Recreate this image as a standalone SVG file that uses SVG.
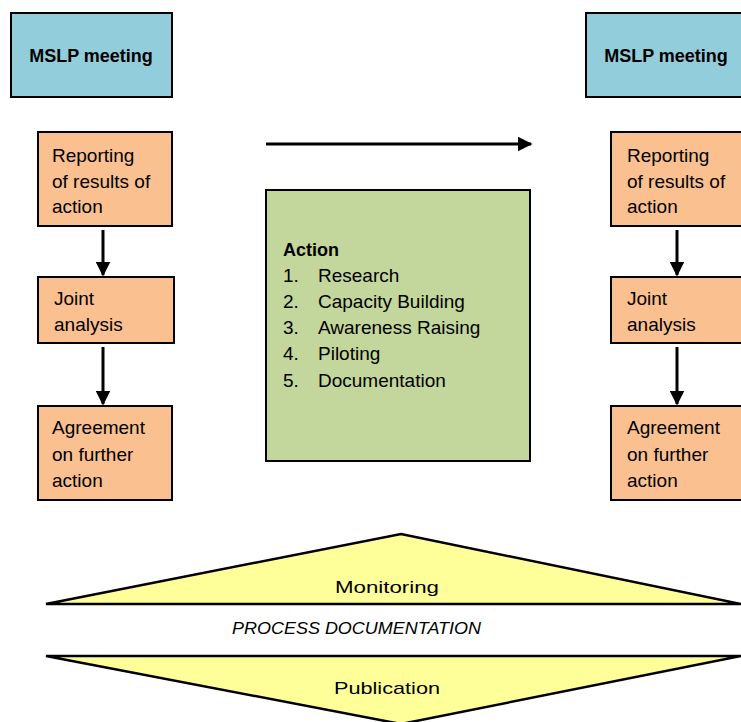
<svg xmlns="http://www.w3.org/2000/svg" width="741" height="722" viewBox="0 0 741 722">
<defs>
<style>
.blue{fill:#92cddc;stroke:#000;stroke-width:2}
.orange{fill:#fac090;stroke:#000;stroke-width:2}
.green{fill:#c3d69b;stroke:#000;stroke-width:2}
.tri{fill:#ffff99;stroke:#000;stroke-width:2.5}
.t{font-family:"Liberation Sans",Arial,sans-serif;font-size:19px;fill:#000}
.b{font-weight:bold;font-size:18px}
.s{font-family:"Liberation Sans",Arial,sans-serif;font-size:17px;fill:#000}
.conn{stroke:#000;stroke-width:3;fill:none}
</style>
<marker id="ah" markerWidth="5" markerHeight="5" refX="4.5" refY="2.5" orient="auto" markerUnits="strokeWidth">
<path d="M0,0 L5,2.5 L0,5 z" fill="#000"/>
</marker>
</defs>
<rect width="741" height="722" fill="#fff"/>

<g id="mslp-left"><rect class="blue" x="11" y="13" width="161" height="84"/><text class="t b" x="91" y="62" text-anchor="middle">MSLP meeting</text></g>
<g id="mslp-right"><rect class="blue" x="586" y="13" width="160" height="84"/><text class="t b" x="666" y="62" text-anchor="middle">MSLP meeting</text></g>

<g id="report-left"><rect class="orange" x="38" y="132" width="134" height="94"/><text class="t" x="52" y="162">Reporting</text><text class="t" x="52" y="188">of results of</text><text class="t" x="52" y="213">action</text></g>
<g id="joint-left"><rect class="orange" x="38" y="277" width="136" height="66"/><text class="t" x="54" y="305">Joint</text><text class="t" x="54" y="331">analysis</text></g>
<g id="agree-left"><rect class="orange" x="38" y="406" width="134" height="94"/><text class="t" x="52" y="434">Agreement</text><text class="t" x="52" y="461">on further</text><text class="t" x="52" y="487">action</text></g>

<g id="report-right"><rect class="orange" x="611" y="132" width="135" height="94"/><text class="t" x="627" y="162">Reporting</text><text class="t" x="627" y="188">of results of</text><text class="t" x="627" y="213">action</text></g>
<g id="joint-right"><rect class="orange" x="611" y="277" width="135" height="66"/><text class="t" x="627" y="305">Joint</text><text class="t" x="627" y="331">analysis</text></g>
<g id="agree-right"><rect class="orange" x="611" y="406" width="135" height="94"/><text class="t" x="627" y="434">Agreement</text><text class="t" x="627" y="461">on further</text><text class="t" x="627" y="487">action</text></g>

<g id="action"><rect class="green" x="266" y="190" width="264" height="271"/>
<text class="t b" x="283" y="256">Action</text>
<text class="t" x="283" y="282">1.</text><text class="t" x="318" y="282">Research</text>
<text class="t" x="283" y="308">2.</text><text class="t" x="318" y="308">Capacity Building</text>
<text class="t" x="283" y="334">3.</text><text class="t" x="318" y="334">Awareness Raising</text>
<text class="t" x="283" y="360">4.</text><text class="t" x="318" y="360">Piloting</text>
<text class="t" x="283" y="387">5.</text><text class="t" x="318" y="387">Documentation</text>
</g>

<g id="monitoring"><polygon class="tri" points="46,604 401,534 741,604"/><text class="s" x="335" y="593" textLength="104" lengthAdjust="spacingAndGlyphs">Monitoring</text></g>
<g id="process-doc"><text class="s" x="232" y="634" font-style="italic" font-size="16" textLength="249" lengthAdjust="spacingAndGlyphs">PROCESS DOCUMENTATION</text></g>
<g id="publication"><polygon class="tri" points="46,656 741,656 401,724"/><text class="s" x="334" y="694" textLength="106" lengthAdjust="spacingAndGlyphs">Publication</text></g>

<g id="connectors">
<line class="conn" x1="103" y1="230" x2="103" y2="275" marker-end="url(#ah)"/>
<line class="conn" x1="103" y1="347" x2="103" y2="404" marker-end="url(#ah)"/>
<line class="conn" x1="677" y1="230" x2="677" y2="275" marker-end="url(#ah)"/>
<line class="conn" x1="677" y1="347" x2="677" y2="404" marker-end="url(#ah)"/>
<line class="conn" x1="266" y1="144" x2="531" y2="144" marker-end="url(#ah)"/>
</g>
</svg>
